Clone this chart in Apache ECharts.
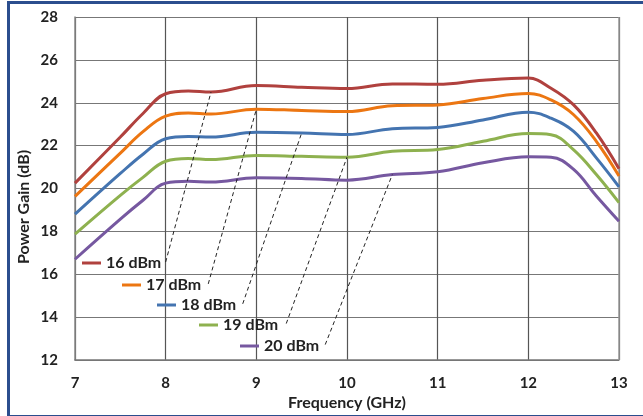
<!DOCTYPE html>
<html>
<head>
<meta charset="utf-8">
<script src="https://cdn.jsdelivr.net/npm/echarts@6/dist/echarts.min.js"></script>
<style>
html,body{margin:0;padding:0;background:#fff;}
#chart{width:643px;height:416px;}
</style>
</head>
<body>
<div id="chart"></div>
<script>
// Frequency points (GHz)
const freq = [7, 7.5, 7.75, 8, 8.25, 8.5, 9, 9.5, 10, 10.5, 11, 11.5, 12, 12.25, 12.5, 12.75, 13];
// Power gain (dB) per input power
const gain16 = [20.25, 22.4, 23.5, 24.42, 24.55, 24.5, 24.8, 24.72, 24.66, 24.88, 24.86, 25.05, 25.15, 24.68, 23.9, 22.59, 20.92];
const gain17 = [19.63, 21.65, 22.65, 23.38, 23.52, 23.47, 23.7, 23.64, 23.59, 23.86, 23.9, 24.2, 24.43, 24.13, 23.44, 22.2, 20.58];
const gain18 = [18.8, 20.7, 21.6, 22.32, 22.43, 22.4, 22.62, 22.59, 22.52, 22.79, 22.85, 23.2, 23.56, 23.28, 22.66, 21.43, 20.08];
const gain19 = [17.87, 19.68, 20.52, 21.27, 21.4, 21.35, 21.54, 21.5, 21.46, 21.74, 21.82, 22.2, 22.56, 22.51, 21.8, 20.65, 19.34];
const gain20 = [16.7, 18.57, 19.45, 20.25, 20.34, 20.3, 20.5, 20.47, 20.39, 20.65, 20.78, 21.2, 21.48, 21.46, 20.89, 19.65, 18.47];
const seriesNames = ['16 dBm', '17 dBm', '18 dBm', '19 dBm', '20 dBm'];
const yTicks = [12, 14, 16, 18, 20, 22, 24, 26, 28];
const xTicks = [7, 8, 9, 10, 11, 12, 13];

const allGain = [gain16, gain17, gain18, gain19, gain20];
const colors = ['#B0413E', '#EC7612', '#4474B0', '#8EB14F', '#7658A0'];
const FONT = 'Lato';

// leader-line annotation: frequency of the curve point each label points to, and label anchor (data coords)
const leaderFreq = [8.5, 9, 9.5, 10, 10.5];
const leaderFrom = [[8.0, 16.57], [8.47, 15.55], [8.85, 14.62], [9.33, 13.7], [9.76, 12.72]];
const legendPos = [[82, 255], [122, 277], [157, 297], [199, 317], [240, 338]];

const series = allGain.map((g, i) => ({
  name: seriesNames[i],
  type: 'line',
  data: freq.map((f, j) => [f, g[j]]),
  smooth: 0.4,
  symbol: 'none',
  lineStyle: { color: colors[i], width: 3 },
  itemStyle: { color: colors[i] },
  z: 3,
  markLine: {
    silent: true,
    symbol: ['none', 'none'],
    label: { show: false },
    lineStyle: { color: '#222', type: [4, 3], width: 1 },
    data: [[{ coord: leaderFrom[i] }, { coord: [leaderFreq[i], g[freq.indexOf(leaderFreq[i])]] }]]
  }
}));

const legends = seriesNames.map((n, i) => ({
  data: [n],
  left: legendPos[i][0],
  top: legendPos[i][1],
  padding: 0,
  icon: 'rect',
  itemWidth: 19,
  itemHeight: 3,
  selectedMode: false,
  textStyle: { fontFamily: FONT, fontWeight: 'bold', fontSize: 16, color: '#222' }
}));

const chart = echarts.init(document.getElementById('chart'), null, { renderer: 'canvas' });
chart.setOption({
  backgroundColor: '#fff',
  animation: false,
  grid: { left: 75, top: 17, width: 544, height: 343, containLabel: false },
  xAxis: {
    type: 'value', min: xTicks[0], max: xTicks[xTicks.length - 1], interval: 1,
    axisLine: { show: true, lineStyle: { color: '#777', width: 1.5 } },
    axisTick: { show: false },
    splitLine: { show: true, lineStyle: { color: '#555', width: 1.2 } },
    axisLabel: { fontFamily: FONT, fontWeight: 'bold', fontSize: 15, color: '#222', margin: 16 }
  },
  yAxis: {
    type: 'value', min: yTicks[0], max: yTicks[yTicks.length - 1], interval: 2,
    axisLine: { show: true, lineStyle: { color: '#888', width: 1.5 } },
    axisTick: { show: false },
    splitLine: { show: true, lineStyle: { color: '#777', width: 1.2 } },
    axisLabel: { fontFamily: FONT, fontWeight: 'bold', fontSize: 15, color: '#222', margin: 17 }
  },
  legend: legends,
  series: series,
  graphic: [
    { type: 'rect', left: 6, top: 0, shape: { width: 660, height: 414 }, style: { fill: 'none', stroke: '#2B4E8E', lineWidth: 3 }, silent: true, z: 100 },
    { type: 'line', shape: { x1: 619, y1: 17, x2: 619, y2: 360 }, style: { stroke: '#999', lineWidth: 1.5 }, silent: true, z: 2 },
    { type: 'text', x: 347, y: 403, style: { text: 'Frequency (GHz)', fontFamily: FONT, fontWeight: 'bold', fontSize: 16, fill: '#222', align: 'center', verticalAlign: 'middle' }, silent: true },
    { type: 'text', x: 24, y: 207, rotation: Math.PI / 2, style: { text: 'Power Gain (dB)', fontFamily: FONT, fontWeight: 'bold', fontSize: 16, fill: '#222', align: 'center', verticalAlign: 'middle' }, silent: true }
  ]
});
</script>
</body>
</html>
